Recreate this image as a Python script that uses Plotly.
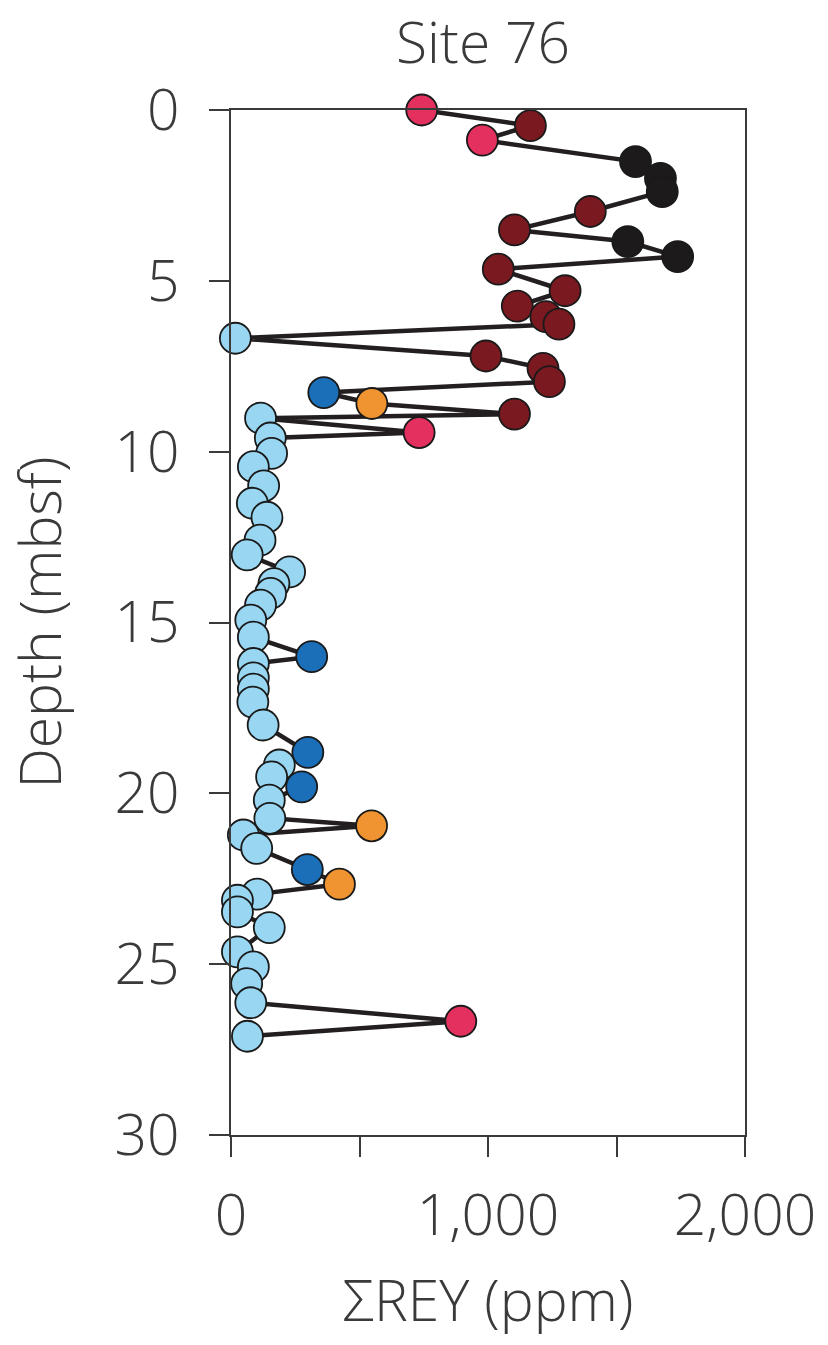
import plotly.graph_objects as go

# Depth (mbsf), sum of rare earth elements + yttrium (ppm), sample group
depth = [0.0, 0.46, 0.88, 1.51, 2.0, 2.39, 2.97, 3.51, 3.85, 4.29,
         4.66, 5.29, 5.74, 6.05, 6.27, 6.68, 7.2, 7.56, 7.95, 8.27,
         8.59, 8.9, 9.02, 9.44, 9.6, 10.05, 10.44, 11.0, 11.51, 11.92,
         12.59, 13.02, 13.52, 13.86, 14.15, 14.49, 14.93, 15.43, 16.0, 16.2,
         16.62, 16.95, 17.33, 18.0, 18.8, 19.17, 19.52, 19.81, 20.2, 20.73,
         20.95, 21.22, 21.61, 22.23, 22.66, 22.95, 23.13, 23.47, 23.93, 24.64,
         25.08, 25.57, 26.13, 26.67, 27.11]
rey = [742, 1165, 978, 1574, 1671, 1678, 1398, 1103, 1544, 1738,
       1040, 1300, 1114, 1225, 1276, 17, 992, 1214, 1239, 361,
       548, 1103, 115, 732, 153, 158, 87, 127, 83, 140,
       113, 63, 228, 167, 154, 115, 77, 87, 314, 87,
       87, 87, 85, 125, 299, 188, 158, 275, 149, 151,
       547, 48, 100, 297, 422, 102, 25, 25, 149, 25,
       87, 61, 77, 894, 64]
group = ["pink", "darkred", "pink", "black", "black", "black", "darkred", "darkred", "black", "black",
         "darkred", "darkred", "darkred", "darkred", "darkred", "lightblue", "darkred", "darkred", "darkred", "blue",
         "orange", "darkred", "lightblue", "pink", "lightblue", "lightblue", "lightblue", "lightblue", "lightblue", "lightblue",
         "lightblue", "lightblue", "lightblue", "lightblue", "lightblue", "lightblue", "lightblue", "lightblue", "blue", "lightblue",
         "lightblue", "lightblue", "lightblue", "lightblue", "blue", "lightblue", "lightblue", "blue", "lightblue", "lightblue",
         "orange", "lightblue", "lightblue", "blue", "orange", "lightblue", "lightblue", "lightblue", "lightblue", "lightblue",
         "lightblue", "lightblue", "lightblue", "pink", "lightblue"]

x_tickvals = [0, 500, 1000, 1500, 2000]
x_ticktext = ["0", "", "1,000", "", "2,000"]
y_tickvals = [0, 5, 10, 15, 20, 25, 30]

palette = {
    "pink": "#E3305F",
    "darkred": "#7A1A20",
    "black": "#1C1A1B",
    "lightblue": "#98D6F1",
    "blue": "#1B6FB8",
    "orange": "#F09432",
}
colors = [palette[g] for g in group]

FONT = "Open Sans"
TXT = "#3a3a3a"
fnt = dict(family=FONT, size=57, color=TXT, weight=300)

fig = go.Figure()
fig.add_trace(go.Scatter(
    x=rey, y=depth, mode="lines+markers",
    line=dict(color="#231F20", width=4.5),
    marker=dict(size=31, color=colors, line=dict(color="#1a1a1a", width=1.8)),
    showlegend=False, cliponaxis=False,
))

axis_common = dict(
    showgrid=False, zeroline=False, showline=True, mirror=True,
    linecolor=TXT, linewidth=2,
    ticks="outside", ticklen=20, tickwidth=2, tickcolor=TXT,
    tickfont=fnt,
)

fig.update_layout(
    width=828, height=1345,
    margin=dict(l=231, r=83, t=110, b=210),
    paper_bgcolor="white", plot_bgcolor="white",
    font=dict(family=FONT, color=TXT),
    title=dict(text="Site 76", font=fnt,
               x=483 / 828, xref="container", xanchor="center",
               y=1 - 43 / 1345, yref="container", yanchor="middle"),
    xaxis=dict(range=[0, 2000], tickvals=x_tickvals, ticktext=x_ticktext,
               ticklabelstandoff=10,
               title=dict(text="ΣREY (ppm)", font=fnt, standoff=30),
               **axis_common),
    yaxis=dict(range=[30, 0], tickvals=y_tickvals, ticklabelstandoff=18,
               title=dict(text="Depth (mbsf)", font=fnt, standoff=42),
               **axis_common),
)

fig.write_html("out.html")
